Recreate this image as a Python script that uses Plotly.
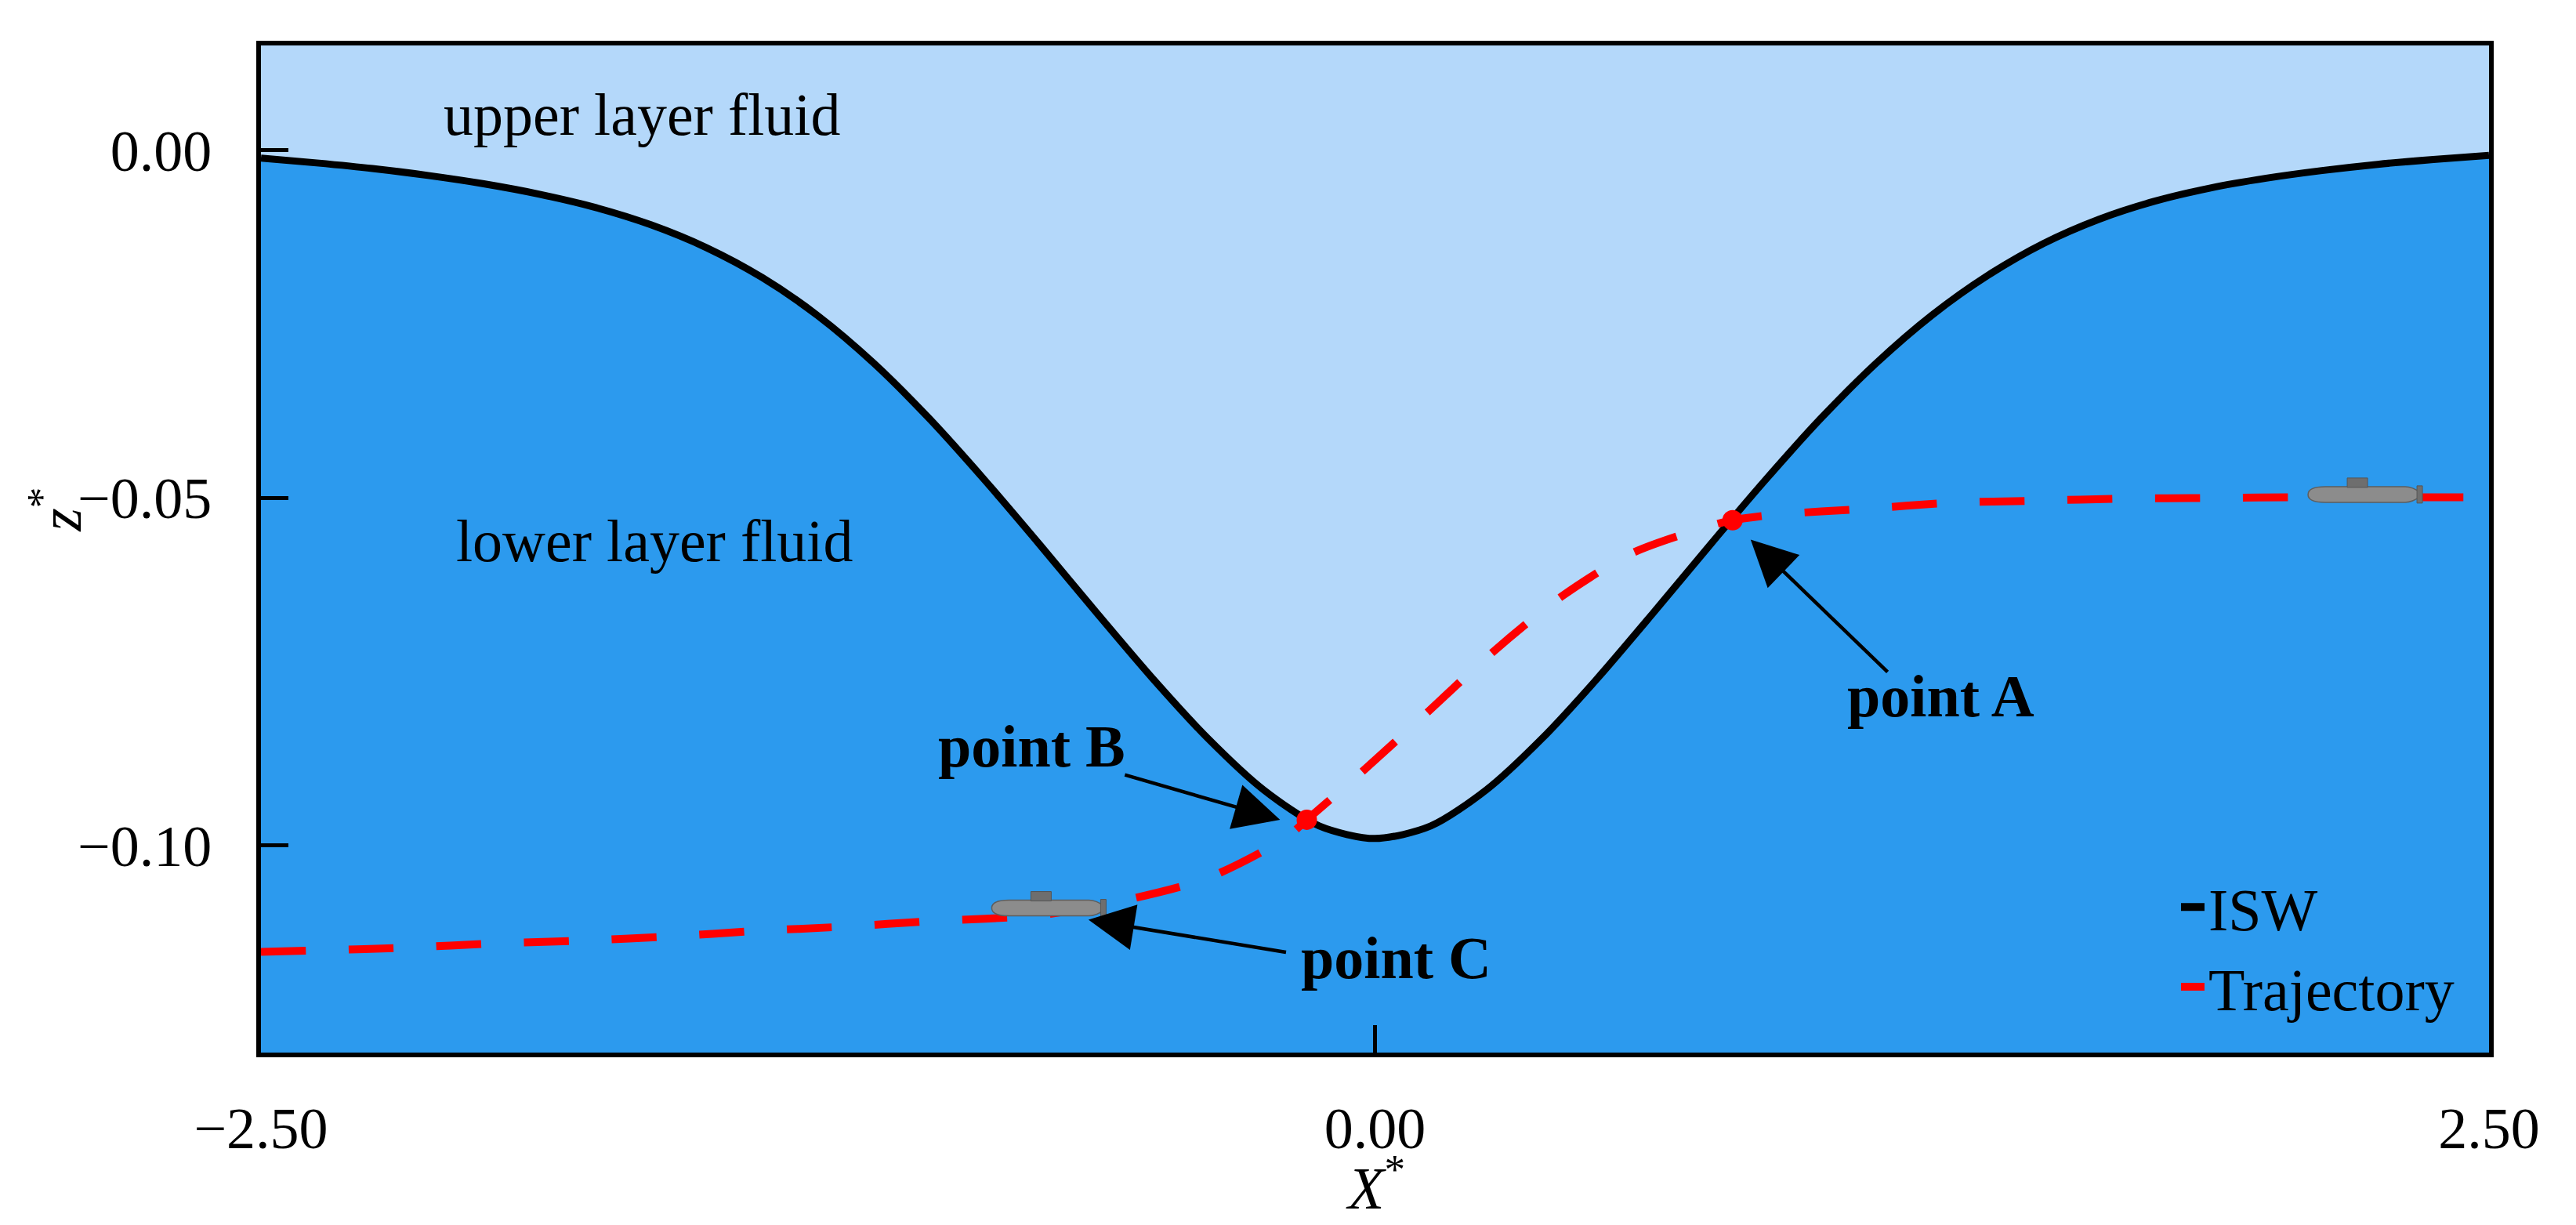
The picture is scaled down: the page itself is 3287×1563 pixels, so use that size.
import plotly.graph_objects as go

# ---- data ----
isw_x = [-2.5, -2.375, -2.25, -2.125, -2.0, -1.875, -1.75, -1.625, -1.5, -1.375,
         -1.25, -1.125, -1.0, -0.875, -0.75, -0.625, -0.5, -0.375, -0.25, -0.125,
         0.0, 0.125, 0.25, 0.375, 0.5, 0.625, 0.75, 0.875, 1.0, 1.125,
         1.25, 1.375, 1.5, 1.625, 1.75, 1.875, 2.0, 2.125, 2.25, 2.375, 2.5]
isw_z = [-0.0011, -0.0018, -0.0026, -0.0036, -0.0048, -0.0063, -0.0082, -0.0107, -0.0140, -0.0183,
         -0.0238, -0.0306, -0.0386, -0.0475, -0.0569, -0.0665, -0.0759, -0.0846, -0.0920, -0.0972,
         -0.0990, -0.0972, -0.0920, -0.0846, -0.0759, -0.0665, -0.0569, -0.0475, -0.0386, -0.0306,
         -0.0237, -0.0180, -0.0134, -0.0099, -0.0073, -0.0054, -0.0040, -0.0029, -0.0020, -0.0013, -0.0007]

traj_x = [-2.5, -2.372, -2.173, -1.977, -1.782, -1.584, -1.388, -1.198, -0.998, -0.75,
          -0.556, -0.376, -0.2, -0.153, -0.029, 0.12, 0.264, 0.416, 0.575, 0.743,
          0.8025, 0.898, 1.093, 1.291, 1.483, 1.682, 1.877, 2.057, 2.456, 2.5]
traj_z = [-0.1153, -0.1151, -0.1147, -0.1141, -0.1137, -0.1131, -0.1123, -0.1117, -0.1109, -0.1100,
          -0.1078, -0.1047, -0.0989, -0.0963, -0.0894, -0.0807, -0.0722, -0.0643, -0.0580, -0.0542,
          -0.0532, -0.0524, -0.0516, -0.0507, -0.0504, -0.0501, -0.0500, -0.0499, -0.0499, -0.0499]

# points A and B (red dots)
pt_x = [0.8025, -0.153]
pt_z = [-0.0532, -0.0963]

# submarines on the trajectory
sub_x = [-0.73, 2.224]
sub_z = [-0.1090, -0.0495]

x_ticks = [-2.5, 0.0, 2.5]
x_ticktext = ["\u22122.50", "0.00", "2.50"]
z_ticks = [0.0, -0.05, -0.10]
z_ticktext = ["0.00", "\u22120.05", "\u22120.10"]
x_range = [-2.5, 2.5]
z_range = [-0.1298, 0.0151]

# text labels
region_text = ["upper layer fluid", "lower layer fluid"]
region_x = [-1.645, -1.617]
region_z = [0.0052, -0.0562]

point_names = ["point A", "point B", "point C"]
point_lx = [1.269, -0.770, 0.047]
point_lz = [-0.0785, -0.0857, -0.1162]
arrow_tip_x = [0.843, -0.213, -0.643]
arrow_tip_z = [-0.0560, -0.0963, -0.1107]
arrow_tail_x = [1.153, -0.564, -0.197]
arrow_tail_z = [-0.0752, -0.0898, -0.1154]

FONT = "Times New Roman, Liberation Serif, serif"
UPPER = "#B4D8FA"
LOWER = "#2C9AEE"

fig = go.Figure()

# bottom of the box, used as fill base for the lower layer
fig.add_trace(go.Scatter(x=x_range, y=[z_range[0], z_range[0]], mode="lines",
                         line=dict(width=0, color=LOWER), showlegend=False, hoverinfo="skip"))
fig.add_trace(go.Scatter(x=isw_x, y=isw_z, mode="lines", fill="tonexty", fillcolor=LOWER,
                         line=dict(color="black", width=9, shape="spline", smoothing=0.8),
                         showlegend=False))
fig.add_trace(go.Scatter(x=traj_x, y=traj_z, mode="lines",
                         line=dict(color="#FF0000", width=10, dash="57px,55px", shape="spline",
                                   smoothing=0.8),
                         showlegend=False))
fig.add_trace(go.Scatter(x=pt_x, y=pt_z, mode="markers", showlegend=False,
                         marker=dict(color="#FF0000", size=26)))

# legend entries
fig.add_trace(go.Scatter(x=[None], y=[None], mode="lines", name="ISW",
                         line=dict(color="black", width=20)))
fig.add_trace(go.Scatter(x=[None], y=[None], mode="lines", name="Trajectory",
                         line=dict(color="#FF0000", width=10, dash="57px,55px")))

# submarines
hull = ("M-74,0 C-74,8 -64,10 -52,10 L50,10 C60,10 66,5 70,2 L70,-2 "
        "C66,-5 60,-10 50,-10 L-52,-10 C-64,-10 -74,-8 -74,0 Z")
for sx, sz in zip(sub_x, sub_z):
    common = dict(xref="x", yref="y", xsizemode="pixel", ysizemode="pixel",
                  xanchor=sx, yanchor=sz, layer="above")
    fig.add_shape(type="path", path=hull, fillcolor="#8C8C8C",
                  line=dict(color="#5E5E5E", width=1.5), **common)
    fig.add_shape(type="rect", x0=-24, x1=2, y0=9, y1=21, fillcolor="#6E6E6E",
                  line=dict(color="#555555", width=1), **common)
    fig.add_shape(type="rect", x0=65, x1=72, y0=-11, y1=11, fillcolor="#6E6E6E",
                  line=dict(color="#555555", width=1), **common)

for t, tx, tz in zip(region_text, region_x, region_z):
    fig.add_annotation(x=tx, y=tz, text=t, showarrow=False,
                       font=dict(family=FONT, size=76, color="black"))

for t, tx, tz in zip(point_names, point_lx, point_lz):
    fig.add_annotation(x=tx, y=tz, text="<b>" + t + "</b>", showarrow=False,
                       font=dict(family=FONT, size=76, color="black"))

for hx, hz, ax, az in zip(arrow_tip_x, arrow_tip_z, arrow_tail_x, arrow_tail_z):
    fig.add_annotation(x=hx, y=hz, ax=ax, ay=az, axref="x", ayref="y", text="",
                       showarrow=True, arrowhead=2, arrowsize=2.6, arrowwidth=4.5,
                       arrowcolor="black")

# axis titles
fig.add_annotation(xref="paper", yref="paper", x=0.5, y=-0.13,
                   xanchor="center", yanchor="middle",
                   text="<i>X</i><sup>*</sup>", showarrow=False,
                   font=dict(family=FONT, size=76, color="black"))
fig.add_annotation(xref="paper", yref="paper", x=-0.092, y=0.539, textangle=-90,
                   xanchor="center", yanchor="middle",
                   text="<i>z</i><sup>*</sup>", showarrow=False,
                   font=dict(family=FONT, size=76, color="black"))

fig.update_xaxes(range=x_range, tickvals=x_ticks, ticktext=x_ticktext,
                 ticks="inside", ticklen=35, tickwidth=5, tickcolor="black",
                 showline=True, linewidth=6, linecolor="black", mirror=True,
                 showgrid=False, zeroline=False, ticklabelstandoff=27,
                 tickfont=dict(family=FONT, size=74, color="black"))
fig.update_yaxes(range=z_range, tickvals=z_ticks, ticktext=z_ticktext,
                 ticks="inside", ticklen=35, tickwidth=5, tickcolor="black",
                 showline=True, linewidth=6, linecolor="black", mirror=True,
                 showgrid=False, zeroline=False, ticklabelstandoff=42,
                 tickfont=dict(family=FONT, size=74, color="black"))

fig.update_layout(
    width=3287, height=1563, autosize=False,
    margin=dict(l=325, r=119, t=50, b=228),
    plot_bgcolor=UPPER, paper_bgcolor="white",
    font=dict(family=FONT, color="black"),
    legend=dict(x=0.86, y=0.188, xanchor="left", yanchor="top", traceorder="normal",
                bgcolor="rgba(0,0,0,0)", font=dict(family=FONT, size=76, color="black"),
                tracegroupgap=0),
)

fig.write_html("out.html")
